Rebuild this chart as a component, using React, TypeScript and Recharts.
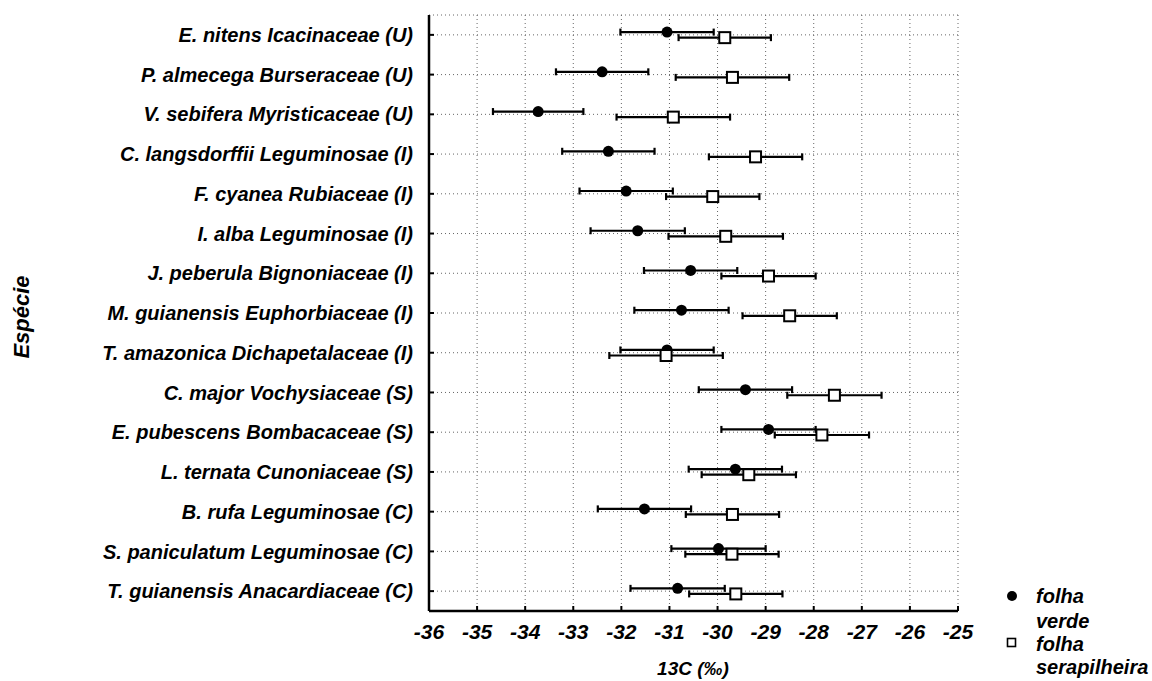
import React from "react";
import {
  ScatterChart,
  Scatter,
  XAxis,
  YAxis,
  CartesianGrid,
  ErrorBar,
} from "recharts";

// species, top to bottom
const species = [
  "E. nitens Icacinaceae (U)",
  "P. almecega Burseraceae (U)",
  "V. sebifera Myristicaceae (U)",
  "C. langsdorffii Leguminosae (I)",
  "F. cyanea Rubiaceae (I)",
  "I. alba Leguminosae (I)",
  "J. peberula Bignoniaceae (I)",
  "M. guianensis Euphorbiaceae (I)",
  "T. amazonica Dichapetalaceae (I)",
  "C. major Vochysiaceae (S)",
  "E. pubescens Bombacaceae (S)",
  "L. ternata Cunoniaceae (S)",
  "B. rufa Leguminosae (C)",
  "S. paniculatum Leguminosae (C)",
  "T. guianensis Anacardiaceae (C)",
];

// folha verde (filled circle)
const verde = [-31.05, -32.4, -33.73, -32.27, -31.9, -31.66, -30.56, -30.75, -31.05, -29.42, -28.94, -29.63, -31.52, -29.98, -30.83];
const verdeErr = [0.97, 0.96, 0.94, 0.96, 0.97, 0.98, 0.97, 0.98, 0.97, 0.97, 0.98, 0.97, 0.97, 0.98, 0.98];

// folha serapilheira (open square)
const serap = [-29.85, -29.69, -30.92, -29.21, -30.1, -29.83, -28.94, -28.5, -31.07, -27.57, -27.83, -29.35, -29.69, -29.7, -29.62];
const serapErr = [0.96, 1.18, 1.18, 0.97, 0.97, 1.19, 0.98, 0.98, 1.18, 0.98, 0.98, 0.98, 0.97, 0.97, 0.97];

const xTicks = [-36, -35, -34, -33, -32, -31, -30, -29, -28, -27, -26, -25];
const yTicks = species.map((_, i) => i);

const FONT = '"Liberation Sans", Arial, sans-serif';

const verdeData = species.map((name, i) => ({ name, y: i - 0.07, x: verde[i], err: verdeErr[i] }));
const serapData = species.map((name, i) => ({ name, y: i + 0.07, x: serap[i], err: serapErr[i] }));

const xTickStyle = {
  fill: "#000",
  fontSize: 21,
  fontWeight: "bold",
  fontStyle: "italic",
  fontFamily: FONT,
};
const yTickStyle = { ...xTickStyle, fontSize: 20 };

const axisLine = { stroke: "#000", strokeWidth: 2.5 };
const tickLine = { stroke: "#000", strokeWidth: 2 };

const Dot = (props: any) => <circle cx={props.cx} cy={props.cy} r={5.5} fill="#000" />;
const Square = (props: any) => (
  <rect x={props.cx - 5.5} y={props.cy - 5.5} width={11} height={11} fill="#fff" stroke="#000" strokeWidth={2} />
);

const legendText: React.CSSProperties = {
  position: "absolute",
  fontFamily: FONT,
  fontWeight: "bold",
  fontStyle: "italic",
  fontSize: 20,
  lineHeight: "22px",
  color: "#000",
  whiteSpace: "nowrap",
};

export default function App() {
  return (
    <div style={{ position: "absolute", left: 0, top: 0, width: 1152, height: 681, background: "#fff" }}>
      <ScatterChart width={1152} height={681} margin={{ top: 15, right: 194, left: 0, bottom: 0 }}>
        <CartesianGrid stroke="#666" strokeDasharray="1 3" strokeWidth={1} />
        <XAxis
          type="number"
          dataKey="x"
          domain={[-36, -25]}
          ticks={xTicks}
          allowDataOverflow
          height={70}
          tick={xTickStyle}
          tickSize={-5}
          tickMargin={18}
          axisLine={axisLine}
          tickLine={tickLine}
          label={() => (
            <text x={693} y={675} textAnchor="middle" fontFamily={FONT} fontSize={19} fontWeight="bold" fontStyle="italic" fill="#000">
              13C (‰)
            </text>
          )}
        />
        <XAxis
          xAxisId="top"
          orientation="top"
          type="number"
          domain={[-36, -25]}
          ticks={xTicks}
          allowDataOverflow
          height={0}
          tick={false}
          tickSize={-5}
          axisLine={axisLine}
          tickLine={tickLine}
        />
        <YAxis
          type="number"
          dataKey="y"
          domain={[-0.5, 14.5]}
          ticks={yTicks}
          reversed
          allowDataOverflow
          interval={0}
          width={429}
          tick={yTickStyle}
          tickFormatter={(i: number) => species[i] ?? ""}
          tickSize={-5}
          tickMargin={21}
          axisLine={axisLine}
          tickLine={tickLine}
          label={() => (
            <text x={29} y={317} transform="rotate(-90 29 317)" textAnchor="middle" fontFamily={FONT} fontSize={22} fontWeight="bold" fontStyle="italic" fill="#000">
              Espécie
            </text>
          )}
        />
        <YAxis
          yAxisId="right"
          orientation="right"
          type="number"
          domain={[-0.5, 14.5]}
          ticks={yTicks}
          reversed
          allowDataOverflow
          width={0}
          tick={false}
          tickSize={-5}
          axisLine={axisLine}
          tickLine={tickLine}
        />
        <Scatter data={verdeData} shape={Dot} isAnimationActive={false}>
          <ErrorBar dataKey="err" direction="x" width={3.5} stroke="#000" strokeWidth={2.2} isAnimationActive={false} />
        </Scatter>
        <Scatter data={serapData} shape={Square} isAnimationActive={false}>
          <ErrorBar dataKey="err" direction="x" width={3.5} stroke="#000" strokeWidth={2.2} isAnimationActive={false} />
        </Scatter>
      </ScatterChart>

      <svg style={{ position: "absolute", left: 1005, top: 589 }} width={14} height={14}>
        <circle cx={7} cy={7} r={5} fill="#000" />
      </svg>
      <div style={{ ...legendText, left: 1036, top: 585 }}>folha</div>
      <div style={{ ...legendText, left: 1036, top: 610 }}>verde</div>
      <svg style={{ position: "absolute", left: 1006, top: 637 }} width={12} height={12}>
        <rect x={1.5} y={1.5} width={8} height={8} fill="#fff" stroke="#000" strokeWidth={1.6} />
      </svg>
      <div style={{ ...legendText, left: 1036, top: 633 }}>folha</div>
      <div style={{ ...legendText, left: 1036, top: 656 }}>serapilheira</div>
    </div>
  );
}
